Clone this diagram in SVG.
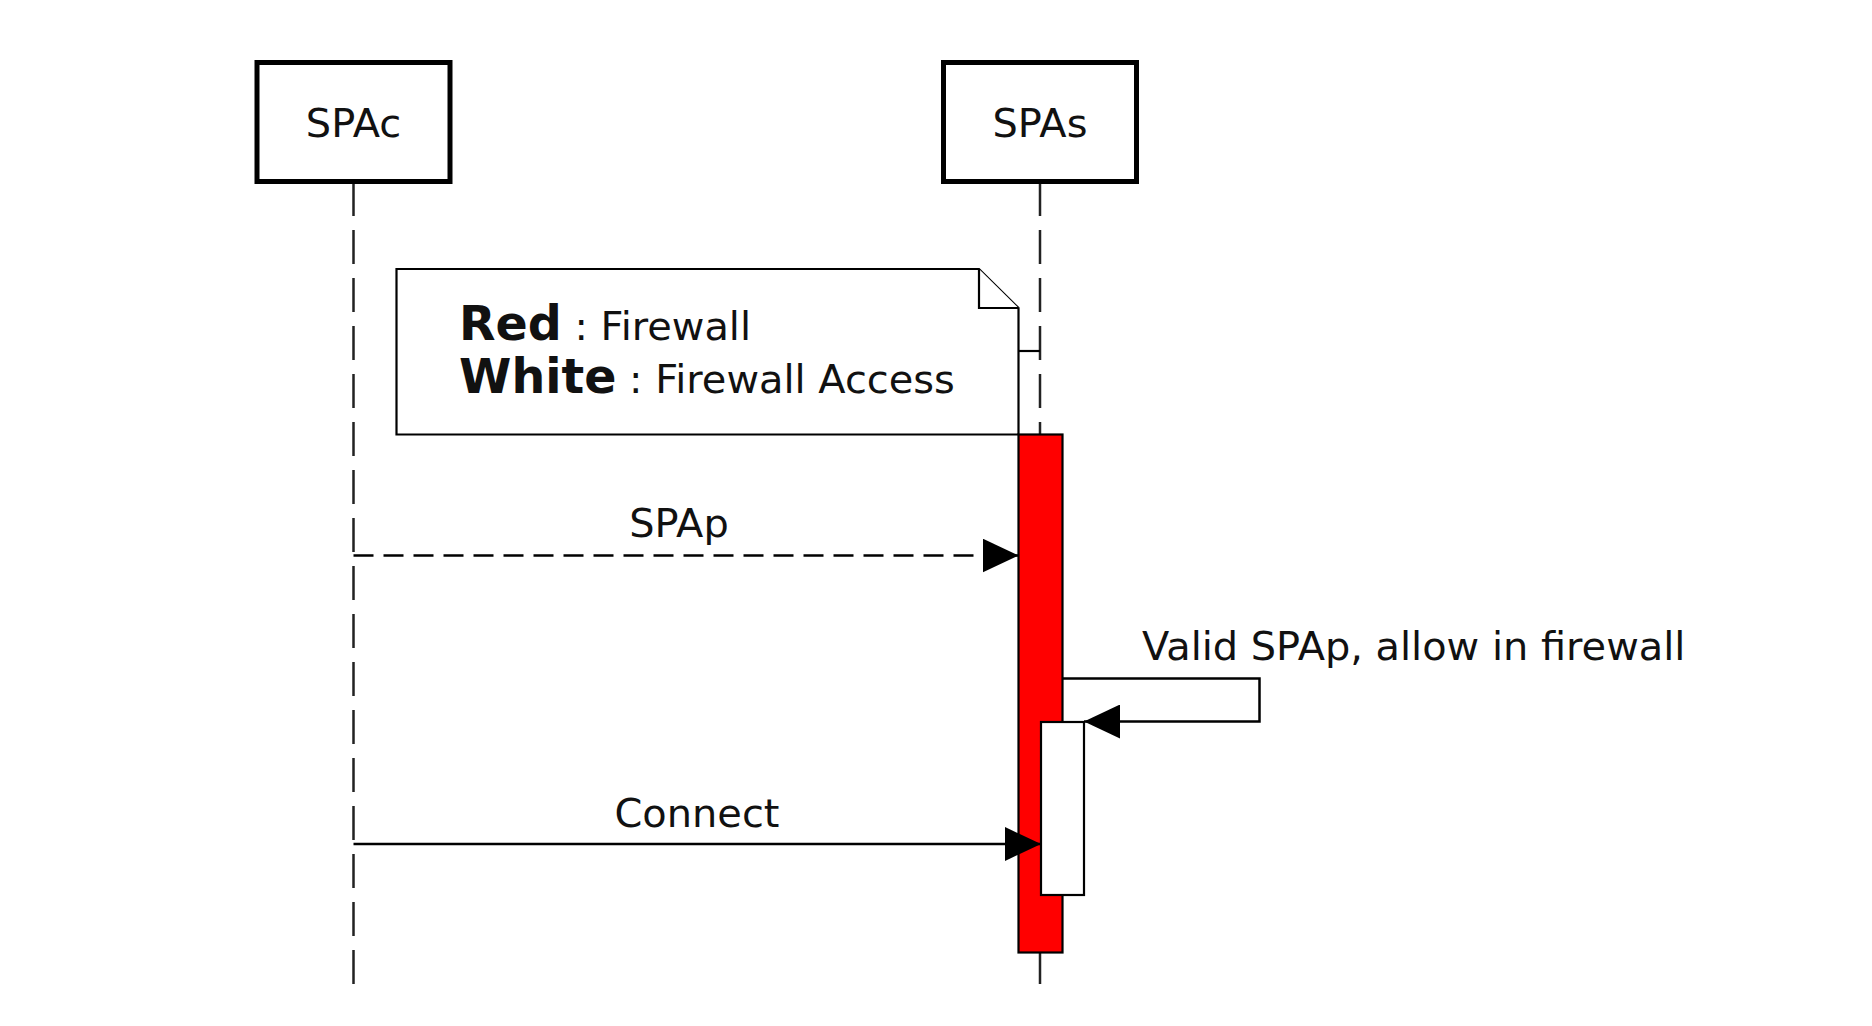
<svg xmlns="http://www.w3.org/2000/svg" width="1872" height="1026" viewBox="0 0 1872 1026">
<style>
text{font-family:"DejaVu Sans","Liberation Sans",sans-serif;font-size:39.9px;fill:#111}
.part{fill:#fff;stroke:#000;stroke-width:5}
.life{stroke:#222;stroke-width:2.5;stroke-dasharray:34,14;fill:none}
.msg{stroke:#000;stroke-width:2.5;fill:none}
.dash{stroke-dasharray:20,10}
.act{stroke:#000;stroke-width:2.2}
.note{fill:#fff;stroke:#000;stroke-width:2.2}
</style>
<defs>
<marker id="ah" markerUnits="userSpaceOnUse" markerWidth="36" markerHeight="34" refX="36" refY="17" orient="auto">
<path d="M0,0 L36,17 L0,34 Z" fill="#000" stroke="none"/>
</marker>
</defs>
<rect width="1872" height="1026" fill="#fff"/>
<g id="lifelines">
<line class="life" x1="353.5" y1="182" x2="353.5" y2="985"/>
<line class="life" x1="1040" y1="182" x2="1040" y2="985"/>
</g>
<g id="SPAc">
<rect class="part" x="257" y="62.5" width="193" height="119"/>
<text x="353.5" y="137" text-anchor="middle">SPAc</text>
</g>
<g id="SPAs">
<rect class="part" x="943.5" y="62.5" width="193" height="119"/>
<text x="1040" y="137" text-anchor="middle">SPAs</text>
</g>
<g id="note">
<path class="note" d="M396.5,269 H979 L1018.5,308 V434.5 H396.5 Z"/>
<path class="note" d="M979,269 V308 H1018.5" fill="none"/>
<line class="note" x1="1018.5" y1="351" x2="1040" y2="351"/>
<text x="459" y="340"><tspan font-weight="bold" font-size="47.5">Red</tspan> : Firewall</text>
<text x="459" y="393"><tspan font-weight="bold" font-size="47.5">White</tspan> : Firewall Access</text>
</g>
<g id="activation-red">
<rect class="act" x="1018.5" y="434.5" width="44" height="518" fill="#ff0000"/>
</g>
<g id="activation-white">
<rect class="act" x="1041" y="722" width="43" height="173" fill="#fff"/>
</g>
<g id="connectors">
<line class="msg dash" x1="353.5" y1="555.5" x2="1018.5" y2="555.5" marker-end="url(#ah)"/>
<text x="679" y="537" text-anchor="middle">SPAp</text>
<polyline class="msg" points="1062.5,678.5 1259.5,678.5 1259.5,721.5 1084,721.5" marker-end="url(#ah)"/>
<text x="1142" y="660">Valid SPAp, allow in firewall</text>
<line class="msg" x1="353.5" y1="844" x2="1041" y2="844" marker-end="url(#ah)"/>
<text x="697" y="826.5" text-anchor="middle">Connect</text>
</g>
</svg>
